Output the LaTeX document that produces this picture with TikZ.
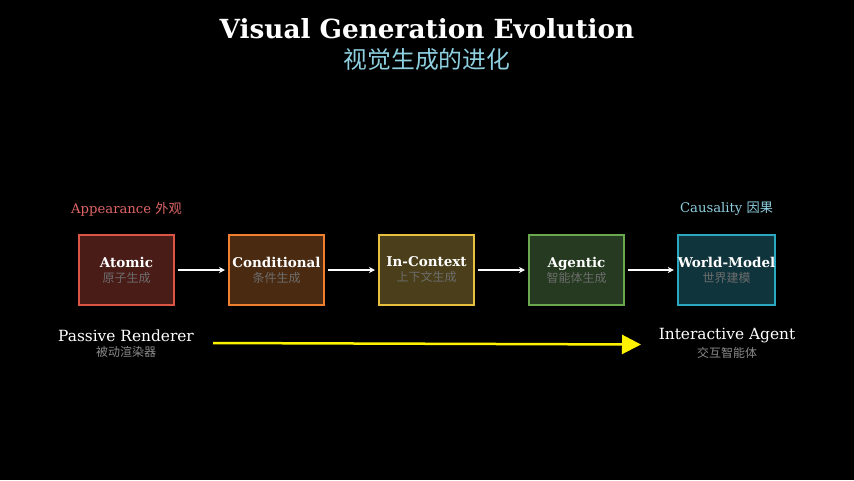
\documentclass[tikz,border=0pt]{standalone}
\usepackage{fontspec}
\setmainfont{DejaVu Serif}
\newfontfamily\cjk{Noto Sans CJK SC}
\usetikzlibrary{arrows.meta}

\definecolor{redline}{HTML}{DC5444}
\definecolor{redfill}{HTML}{4A1C18}
\definecolor{redtext}{HTML}{E06666}
\definecolor{orangeline}{HTML}{F08030}
\definecolor{orangefill}{HTML}{4A2A10}
\definecolor{yellowline}{HTML}{E8C040}
\definecolor{yellowfill}{HTML}{4A3F1A}
\definecolor{greenline}{HTML}{6AA84F}
\definecolor{greenfill}{HTML}{253A20}
\definecolor{cyanline}{HTML}{2AA8C0}
\definecolor{cyanfill}{HTML}{10343C}
\definecolor{subblue}{HTML}{8ECFE0}
\definecolor{softgray}{HTML}{8A8A8A}
\definecolor{boxgray}{HTML}{9A9A9A}

\begin{document}
\begin{tikzpicture}
[x=1pt,y=-1pt]
\tikzset{stage/.style={draw,line width=2pt,minimum width=95pt,minimum height=70pt,
  inner sep=0pt,align=center,text=white,font=\fontsize{13.5}{15}\selectfont},
  link/.style={draw=white,line width=1.5pt,-{Stealth[length=6pt,width=6pt]},shorten <=3pt,shorten >=3pt},
  sub/.style={text=softgray,font=\cjk\fontsize{12}{13}\selectfont}}
\newcommand{\stagecn}[1]{{\cjk\fontsize{12}{13}\selectfont\color{boxgray!70!black}#1}}
\fill [black] (0,0) rectangle (854,480);

\node [text=white,font=\bfseries\fontsize{26.3}{30}\selectfont] (title) at (427,29) {Visual Generation Evolution};
\node [text=subblue,font=\cjk\fontsize{23.8}{26}\selectfont] (subtitle) at (427,59) {视觉生成的进化};

\node [stage,draw=redline,fill=redfill] (st1) at (126.5,270) {\textbf{Atomic}\\\stagecn{原子生成}};
\node [stage,draw=orangeline,fill=orangefill] (st2) at (276.5,270) {\textbf{Conditional}\\\stagecn{条件生成}};
\node [stage,draw=yellowline,fill=yellowfill] (st3) at (426.5,270) {\textbf{In-Context}\\\stagecn{上下文生成}};
\node [stage,draw=greenline,fill=greenfill] (st4) at (576.5,270) {\textbf{Agentic}\\\stagecn{智能体生成}};
\node [stage,draw=cyanline,fill=cyanfill] (st5) at (726.5,270) {\textbf{World-Model}\\\stagecn{世界建模}};

\foreach \from/\to in {st1/st2,st2/st3,st3/st4,st4/st5}
	\draw [link] (\from) -- (\to);

\node [text=redtext,font=\fontsize{13.2}{15}\selectfont] (appear) at (126.5,209) {Appearance {\cjk 外观}};
\node [text=subblue,font=\fontsize{13.2}{15}\selectfont] (causal) at (726.5,209) {Causality {\cjk 因果}};

\node [text=white,font=\fontsize{15.4}{17}\selectfont] (passive) at (126,336) {Passive Renderer};
\node [sub] (passivecn) at (126,352) {被动渲染器};
\node [text=white,font=\fontsize{15.4}{17}\selectfont] (active) at (727,336) {Interactive Agent};
\node [sub] (activecn) at (727,353) {交互智能体};

\coordinate (p1) at (213,343);
\coordinate (p2) at (641,344.5);
\draw [yellow,line width=2.5pt,-{Triangle[length=19pt,width=19pt]}] (p1) -- (p2);

\end{tikzpicture}
\end{document}
